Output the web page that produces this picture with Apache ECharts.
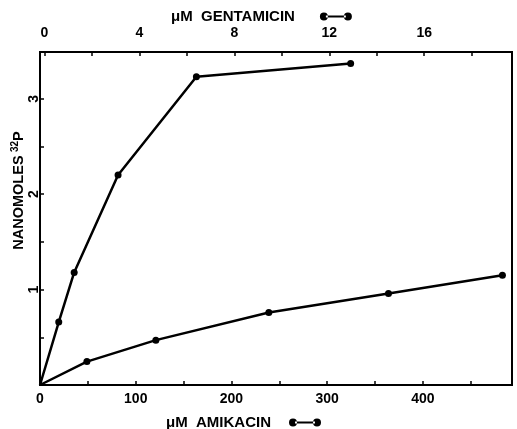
<!DOCTYPE html>
<html>
<head>
<meta charset="utf-8">
<script src="https://cdn.jsdelivr.net/npm/echarts@6/dist/echarts.min.js"></script>
<style>html,body{margin:0;padding:0;background:#fff}#c{width:517px;height:429px}</style>
</head>
<body>
<div id="c"></div>
<script>
// Amikacin (bottom axis, µM)
const amikacinX = [0, 49, 121, 239, 364, 483];
const amikacinY = [0, 0.245, 0.47, 0.76, 0.96, 1.15];
// Gentamicin (top axis, µM); first point is the shared origin corner
const gentamicinX = [-0.19, 0.6, 1.25, 3.1, 6.4, 12.9];
const gentamicinY = [0, 0.66, 1.18, 2.2, 3.23, 3.37];
// tick labels
const bottomLabels = [0, 100, 200, 300, 400];
const bottomTicks = [0, 50, 100, 150, 200, 250, 300, 350, 400, 450];
const topLabels = [0, 4, 8, 12, 16];
const topTicks = [0, 2, 4, 6, 8, 10, 12, 14, 16, 18];
const leftLabels = [1, 2, 3];
const leftTicks = [0.5, 1, 1.5, 2, 2.5, 3];

const FONT = '"Liberation Sans", Arial, sans-serif';
const dumbbell = 'path://M0,4a4,4 0 1,0 8,0a4,4 0 1,0 -8,0z M6,3h20v2h-20z M24,4a4,4 0 1,0 8,0a4,4 0 1,0 -8,0z';

function pts(xs, ys) {
  return xs.map((x, i) => i === 0 ? {value: [x, ys[i]], symbol: 'none'} : [x, ys[i]]);
}

const chart = echarts.init(document.getElementById('c'), null, {renderer: 'canvas'});
const axisCommon = {
  type: 'value',
  splitLine: {show: false},
  axisLine: {show: true, lineStyle: {color: '#000', width: 2}},
  axisTick: {show: true, inside: true, length: 4, lineStyle: {color: '#000', width: 1.5}},
  axisLabel: {color: '#000', fontFamily: FONT, fontWeight: 'bold', fontSize: 14}
};
chart.setOption({
  backgroundColor: '#fff',
  animation: false,
  grid: {left: 40, right: 5, top: 52, bottom: 44, show: true, borderColor: '#000', borderWidth: 2,
         containLabel: false, outerBoundsMode: 'none'},
  legend: [
    {data: ['μM  GENTAMICIN'], left: 166, top: 4, align: 'right', icon: dumbbell, itemWidth: 32, itemHeight: 8,
     textStyle: {color: '#000', fontFamily: FONT, fontWeight: 'bold', fontSize: 15, padding: [0, 20, 0, 0]}},
    {data: ['μM  AMIKACIN'], left: 161, top: 410, align: 'right', icon: dumbbell, itemWidth: 32, itemHeight: 8,
     textStyle: {color: '#000', fontFamily: FONT, fontWeight: 'bold', fontSize: 15, padding: [0, 13, 0, 0]}}
  ],
  xAxis: [
    Object.assign({}, axisCommon, {
      position: 'bottom', min: 0, max: 493,
      axisTick: Object.assign({}, axisCommon.axisTick, {customValues: bottomTicks}),
      axisLabel: Object.assign({}, axisCommon.axisLabel, {customValues: bottomLabels, margin: 7})
    }),
    Object.assign({}, axisCommon, {
      position: 'top', min: -0.19, max: 19.7,
      axisTick: Object.assign({}, axisCommon.axisTick, {customValues: topTicks}),
      axisLabel: Object.assign({}, axisCommon.axisLabel, {customValues: topLabels, margin: 12})
    })
  ],
  yAxis: [
    Object.assign({}, axisCommon, {
      min: 0, max: 3.49,
      axisTick: Object.assign({}, axisCommon.axisTick, {customValues: leftTicks}),
      axisLabel: Object.assign({}, axisCommon.axisLabel, {customValues: leftLabels, rotate: 90, margin: -1}),
      name: '{a|NANOMOLES} {s|32}{b|P}',
      nameLocation: 'middle', nameRotate: 90, nameGap: 12, nameMoveOverlap: false,
      nameTextStyle: {
        padding: [0, 0, 0, 56],
        rich: {
          a: {fontFamily: FONT, fontWeight: 'bold', fontSize: 14.5, color: '#000'},
          s: {fontFamily: FONT, fontWeight: 'bold', fontSize: 10, color: '#000', verticalAlign: 'bottom', padding: [0, 0, 8, 0]},
          b: {fontFamily: FONT, fontWeight: 'bold', fontSize: 14.5, color: '#000'}
        }
      }
    })
  ],
  series: [
    {
      name: 'μM  GENTAMICIN', type: 'line', xAxisIndex: 1, yAxisIndex: 0,
      data: pts(gentamicinX, gentamicinY),
      symbol: 'circle', symbolSize: 7, showAllSymbol: true,
      lineStyle: {color: '#000', width: 2.5}, itemStyle: {color: '#000'}
    },
    {
      name: 'μM  AMIKACIN', type: 'line', xAxisIndex: 0, yAxisIndex: 0,
      data: pts(amikacinX, amikacinY),
      symbol: 'circle', symbolSize: 7, showAllSymbol: true,
      lineStyle: {color: '#000', width: 2.5}, itemStyle: {color: '#000'}
    }
  ]
});
</script>
</body>
</html>
